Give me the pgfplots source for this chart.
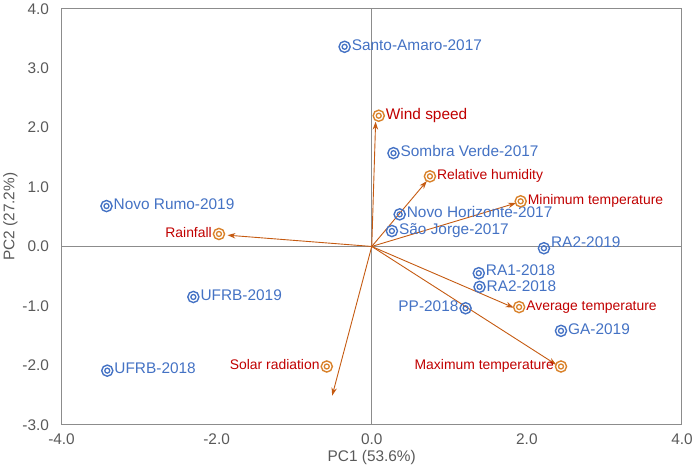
\documentclass[border=0pt]{standalone}
\usepackage{fontspec}
\setmainfont{Liberation Sans}
\usepackage{pgfplots}
\usepackage{pgfplotstable}
\pgfplotsset{compat=1.18}
\usetikzlibrary{arrows.meta}
\definecolor{siteblue}{HTML}{4472C4}
\definecolor{varorange}{HTML}{C55A11}
\definecolor{mkorange}{HTML}{D9822B}
\definecolor{varred}{HTML}{C00000}
\definecolor{axgray}{HTML}{8C8C8C}
\definecolor{ticktext}{HTML}{595959}

% sites, label to the right
\pgfplotstableread[col sep=comma]{
x,y,label
-0.35,3.36,Santo-Amaro-2017
0.28,1.57,Sombra Verde-2017
-3.42,0.68,Novo Rumo-2019
0.36,0.54,Novo Horizonte-2017
0.26,0.26,São Jorge-2017
2.44,-1.42,GA-2019
-2.30,-0.85,UFRB-2019
-3.41,-2.09,UFRB-2018
}\sitesR
% two close sites, labels nudged apart
\pgfplotstableread[col sep=comma]{
x,y,label
1.38,-0.45,RA1-2018
}\sitesRup
\pgfplotstableread[col sep=comma]{
x,y,label
1.39,-0.68,RA2-2018
}\sitesRdn
% site, label up-right
\pgfplotstableread[col sep=comma]{
x,y,label
2.22,-0.03,RA2-2019
}\sitesUR
% site, label to the left
\pgfplotstableread[col sep=comma]{
x,y,label
1.21,-1.04,PP-2018
}\sitesL

% variables, label to the right
\pgfplotstableread[col sep=comma]{
x,y,label
0.75,1.18,Relative humidity
1.92,0.76,Minimum temperature
1.90,-1.02,Average temperature
}\varsR
\pgfplotstableread[col sep=comma]{
x,y,label
0.09,2.20,Wind speed
}\varsW
% variables, label to the left
\pgfplotstableread[col sep=comma]{
x,y,label
-1.97,0.21,Rainfall
2.44,-2.02,Maximum temperature
-0.58,-2.02,Solar radiation
}\varsL

\pgfplotsset{
  outer/.style={only marks, mark=o, mark size=5.6bp, line width=1.4pt},
  inner/.style={only marks, mark=o, mark size=2.5bp, line width=1.3pt},
  lab/.style 2 args={nodes near coords, point meta=explicit symbolic,
    every node near coord/.append style={anchor=#1, inner xsep=6.5bp, inner ysep=0bp,
      text height=0.72em, text depth=0.05em, #2}},
  arr/.style={varorange, line width=0.9pt, -{Stealth[length=8pt,width=5.5pt]}},
}

\begin{document}
\begin{tikzpicture}
\begin{axis}[
  scale only axis,
  width=622bp, height=417bp,
  xmin=-4, xmax=4, ymin=-3, ymax=4,
  xtick={-4,-2,0,2,4},
  ytick={-3,-2,-1,0,1,2,3,4},
  /pgf/number format/.cd, fixed, fixed zerofill, precision=1, assume math mode=true,
  /pgfplots/.cd,
  major tick length=0pt,
  tick label style={font=\fontsize{15.5}{18}\selectfont, text=ticktext},
  xticklabel style={yshift=-6bp},
  yticklabel style={xshift=-9bp},
  axis line style={axgray, line width=1pt},
  xlabel={PC1 (53.6\%)},
  ylabel={PC2 (27.2\%)},
  label style={font=\fontsize{15.5}{18}\selectfont, text=ticktext},
  xlabel style={yshift=2bp},
  ylabel style={yshift=-2bp},
  extra x ticks={0}, extra x tick labels={},
  extra y ticks={0}, extra y tick labels={},
  extra tick style={grid=major, major grid style={axgray, line width=1pt}},
  clip=false,
]
% arrows
\addplot[arr] coordinates {(0,0) (0.05,2.10)};
\addplot[arr] coordinates {(0,0) (-1.86,0.19)};
\addplot[arr] coordinates {(0,0) (0.71,1.10)};
\addplot[arr] coordinates {(0,0) (1.86,0.73)};
\addplot[arr] coordinates {(0,0) (1.83,-1.03)};
\addplot[arr] coordinates {(0,0) (2.38,-1.99)};
\addplot[arr] coordinates {(0,0) (-0.51,-2.51)};

% sites
\addplot[outer, siteblue, lab={west}{font=\fontsize{15.5}{18}\selectfont, text=siteblue}]
  table[x=x, y=y, meta=label]{\sitesR};
\addplot[inner, siteblue] table[x=x, y=y]{\sitesR};
\addplot[outer, siteblue, lab={west}{font=\fontsize{15.5}{18}\selectfont, text=siteblue, yshift=1.5bp}]
  table[x=x, y=y, meta=label]{\sitesRup};
\addplot[inner, siteblue] table[x=x, y=y]{\sitesRup};
\addplot[outer, siteblue, lab={west}{font=\fontsize{15.5}{18}\selectfont, text=siteblue, yshift=-1.5bp}]
  table[x=x, y=y, meta=label]{\sitesRdn};
\addplot[inner, siteblue] table[x=x, y=y]{\sitesRdn};
\addplot[outer, siteblue, lab={south west}{font=\fontsize{15.5}{18}\selectfont, text=siteblue}]
  table[x=x, y=y, meta=label]{\sitesUR};
\addplot[inner, siteblue] table[x=x, y=y]{\sitesUR};
\addplot[outer, siteblue, lab={east}{font=\fontsize{15.5}{18}\selectfont, text=siteblue}]
  table[x=x, y=y, meta=label]{\sitesL};
\addplot[inner, siteblue] table[x=x, y=y]{\sitesL};

% variables
\addplot[outer, mkorange, lab={west}{font=\fontsize{14}{17}\selectfont, text=varred}]
  table[x=x, y=y, meta=label]{\varsR};
\addplot[inner, mkorange] table[x=x, y=y]{\varsR};
\addplot[outer, mkorange, lab={west}{font=\fontsize{15.5}{18}\selectfont, text=varred}]
  table[x=x, y=y, meta=label]{\varsW};
\addplot[inner, mkorange] table[x=x, y=y]{\varsW};
\addplot[outer, mkorange, lab={east}{font=\fontsize{14}{17}\selectfont, text=varred}]
  table[x=x, y=y, meta=label]{\varsL};
\addplot[inner, mkorange] table[x=x, y=y]{\varsL};
\end{axis}
\end{tikzpicture}
\end{document}
